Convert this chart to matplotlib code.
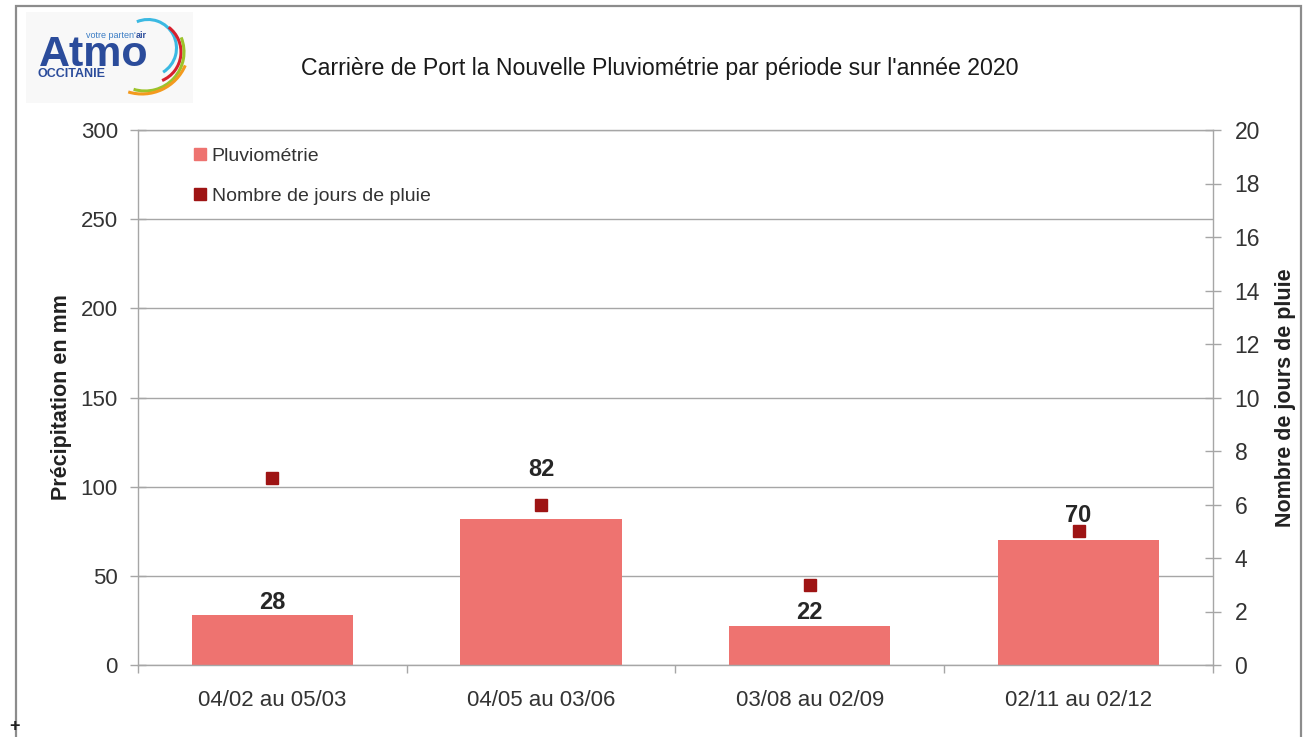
import matplotlib
matplotlib.use("Agg")
import matplotlib.pyplot as plt
from matplotlib.patches import Rectangle, Arc
from matplotlib.lines import Line2D
import numpy as np

# ---- data ----
categories = ["04/02 au 05/03", "04/05 au 03/06", "03/08 au 02/09", "02/11 au 02/12"]
pluvio_mm = [28, 82, 22, 70]
jours_pluie = [7, 6, 3, 5]
label_offsets_px = [13, 49, 13, 25]   # vertical placement of value labels (style)

title = "Carrière de Port la Nouvelle Pluviométrie par période sur l'année 2020"

REG = ["Liberation Sans", "DejaVu Sans"]
plt.rcParams["font.family"] = REG

BAR_COL = "#EE7370"
MK_COL = "#9E1414"
GRID = "#A6A6A6"
TXT = "#333333"

W, H = 1304, 737
fig = plt.figure(figsize=(W / 100, H / 100), dpi=100)
fig.patch.set_facecolor("white")

def fx(x):
    return x / W

def fy(y):
    return 1 - y / H

# outer frame
fig.patches.append(Rectangle((fx(16), fy(760)), fx(1301) - fx(16), fy(6) - fy(760),
                             transform=fig.transFigure, fill=False,
                             edgecolor="#8C8C8C", lw=1.6, zorder=0))
fig.text(fx(14), fy(727), "+", fontsize=13, fontweight="bold", color="#222222",
         ha="center", va="center")

# main axes
left, right, top, bottom = 138, 1213, 130, 665
ax = fig.add_axes([fx(left), fy(bottom), fx(right) - fx(left), fy(top) - fy(bottom)])
ax.set_facecolor("white")
x = np.arange(len(categories))
ax.bar(x, pluvio_mm, width=0.6, color=BAR_COL, zorder=2)
ax.set_xlim(-0.5, len(categories) - 0.5)
ax.set_ylim(0, 300)
ax.set_yticks(np.arange(0, 301, 50))
ax.yaxis.grid(True, color=GRID, lw=1.0, zorder=0)
ax.set_axisbelow(True)
for s in ["left", "bottom", "right", "top"]:
    ax.spines[s].set_color(GRID)
    ax.spines[s].set_linewidth(1.0)
ax.spines["right"].set_visible(False)

ax.set_xticks(x)
ax.set_xticklabels(categories, fontsize=16, color=TXT)
ax.set_xticks(np.arange(-0.5, len(categories), 1.0), minor=True)
ax.tick_params(axis="x", which="major", length=0, pad=18)
ax.tick_params(axis="x", which="minor", length=6, color=GRID, direction="out", width=1.0)
ax.tick_params(axis="y", which="major", length=11, direction="inout", color=GRID,
               labelsize=16, labelcolor=TXT, pad=9, width=1.0)

ax.set_ylabel("Précipitation en mm", fontsize=15.5, fontweight="bold", color="#222222",
              labelpad=6)

# value labels
for xi, v, off in zip(x, pluvio_mm, label_offsets_px):
    ax.annotate(f"{v}", (xi, v), xytext=(0, off * 0.72), textcoords="offset points",
                ha="center", va="center", fontsize=17, fontweight="bold", color="#262626")

# secondary axis
ax2 = ax.twinx()
ax2.set_ylim(0, 20)
ax2.set_yticks(np.arange(0, 21, 2))
ax2.plot(x, jours_pluie, linestyle="none", marker="s", markersize=8.5,
         color=MK_COL, markeredgecolor=MK_COL, zorder=5)
for s in ["left", "bottom", "top"]:
    ax2.spines[s].set_visible(False)
ax2.spines["right"].set_color(GRID)
ax2.spines["right"].set_linewidth(1.0)
ax2.tick_params(axis="y", length=11, direction="inout", color=GRID, labelsize=16.5,
                labelcolor=TXT, pad=10, width=1.0)
ax2.set_ylabel("Nombre de jours de pluie", fontsize=15.5, fontweight="bold",
               color="#222222", labelpad=11)

# legend
handles = [Line2D([], [], linestyle="none", marker="s", markersize=8, color=BAR_COL),
           Line2D([], [], linestyle="none", marker="s", markersize=8, color=MK_COL)]
fig.legend(handles, ["Pluviométrie", "Nombre de jours de pluie"],
           loc="upper left", bbox_to_anchor=(fx(194), fy(147)), frameon=False,
           fontsize=14, handlelength=0.6, handletextpad=0.3, labelspacing=1.15,
           labelcolor=TXT, borderaxespad=0, borderpad=0)

# title
fig.text(fx(660), fy(68), title, ha="center", va="center", fontsize=16.7,
         color="#1A1A1A")

# logo
lax = fig.add_axes([fx(26), fy(103), fx(193) - fx(26), fy(12) - fy(103)])
lax.set_xlim(26, 193)
lax.set_ylim(H - 103, H - 12)
lax.set_facecolor("#F8F8F8")
for s in lax.spines.values():
    s.set_visible(False)
lax.set_xticks([])
lax.set_yticks([])
BLUE = "#2B4C9B"
lax.text(39, H - 66, "Atmo", fontsize=31, fontweight="bold", color=BLUE,
         ha="left", va="baseline")
lax.text(37, H - 74, "OCCITANIE", fontsize=9, fontweight="bold", color=BLUE,
         ha="left", va="center")
lax.text(86, H - 35, "votre parten'", fontsize=6.5, color="#3A7CC4",
         ha="left", va="center")
lax.text(136, H - 35, "air", fontsize=6.5, color="#2B4C9B", fontweight="bold",
         ha="left", va="center")
arcs = [((148, H - 48), 28.5, -58, 113, "#3BB9E2"),
        ((150, H - 52), 31, -67, 53, "#D7202E"),
        ((145, H - 52), 39, -107, 22, "#9CC32A"),
        ((142, H - 47), 47, -107, -23, "#F39A1E")]
for c_, r_, t1, t2, col in arcs:
    lax.add_patch(Arc(c_, 2 * r_, 2 * r_, theta1=t1, theta2=t2, color=col, lw=2.2))

fig.savefig("out.png", dpi=100, facecolor="white")
